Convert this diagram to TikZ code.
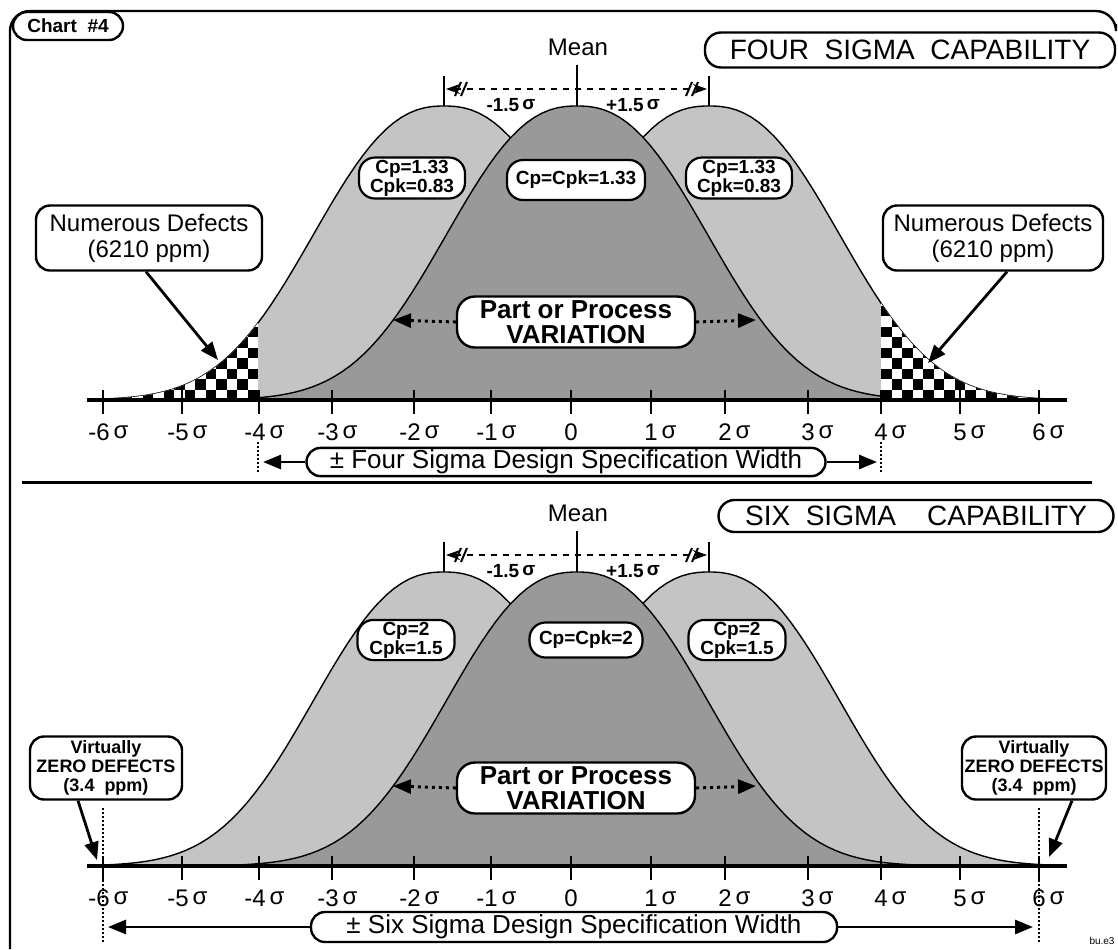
\documentclass[tikz,border=0pt]{standalone}
\usepackage{fontspec}
\setmainfont{Liberation Sans}
\usetikzlibrary{arrows.meta,positioning}

\definecolor{sidegray}{gray}{0.77}
\definecolor{midgray}{gray}{0.60}
\newcommand{\sig}{\raisebox{.15ex}{σ}}

\tikzset{
  declare function={bell(\xx,\mm)=294*exp(-1*pow((abs(\xx-\mm)+0.01)/164.6,2.39));},
  bellline/.style={line width=0.7pt},
  infobox/.style={draw, line width=1.2pt, fill=white, rounded corners=7pt, align=center, inner sep=1pt},
  cpbox/.style={draw, line width=1.1pt, fill=white, rounded corners=8pt, align=center, inner sep=1pt,
    font=\bfseries\fontsize{9.5}{9.5}\selectfont},
  titlebox/.style={draw, line width=1.2pt, rounded corners=8pt, inner sep=1pt, font=\fontsize{14}{14}\selectfont},
  specbox/.style={draw, line width=1.2pt, fill=white, rounded corners=7pt, inner sep=1pt, font=\fontsize{13}{13}\selectfont},
  ticklab/.style={anchor=base, inner sep=0pt, font=\fontsize{12}{12}\selectfont},
  fatarrow/.style={line width=1.4pt, -{Triangle[length=9pt,width=7pt]}},
  dotarrow/.style={line width=1.5pt, dotted, -{Triangle[length=9pt,width=7pt]}},
  specline/.style={line width=1pt, densely dotted},
}

\begin{document}
\begin{tikzpicture}[x=0.5pt, y=-0.5pt]
  \useasboundingbox (0,0) rectangle (1118,949);
  % frame and divider
  \draw[line width=1.2pt, rounded corners=10pt] (10,949) -- (10,11) -- (1116,11) -- (1116,24);
  \draw[line width=1.5pt] (22,482) -- (1092,482);
  \node[infobox, font=\bfseries\fontsize{9.5}{10}\selectfont, minimum width=55pt, minimum height=14pt] (chart) at (68,26) {Chart\ \ \#4};

  % common parts of both panels
  \foreach \yo in {0,466}{
  \begin{scope}[shift={(0,\yo)}]
    \foreach \m/\a/\b in {444/101/787, 709/366/1052}
      \filldraw[fill=sidegray, bellline] (\a,400) -- plot[domain=\a:\b, samples=90] (\x,{400-bell(\x,\m)}) -- (\b,400) -- cycle;
    \filldraw[fill=midgray, bellline] (234,400) -- plot[domain=234:920, samples=90] (\x,{400-bell(\x,577)}) -- (920,400) -- cycle;
    \ifnum\yo=0
      % checkered tails
      \begin{scope}
        \clip (101,399) -- plot[domain=101:258, samples=40] (\x,{400-bell(\x,444)}) -- (258,399) -- cycle;
        \fill[white] (90,280) rectangle (260,400);
        \foreach \i in {0,...,15}
          \foreach \j in {0,...,11}{
            \pgfmathtruncatemacro\odd{mod(\i+\j,2)}
            \ifnum\odd=0 \fill (258-\i*10.5,400-\j*10.5) rectangle ++(-10.5,-10.5); \fi}
      \end{scope}
      \begin{scope}
        \clip (881,399) -- plot[domain=881:1052, samples=40] (\x,{400-bell(\x,709)}) -- (1052,399) -- cycle;
        \fill[white] (880,280) rectangle (1060,400);
        \foreach \i in {0,...,16}
          \foreach \j in {0,...,11}{
            \pgfmathtruncatemacro\odd{mod(\i+\j,2)}
            \ifnum\odd=0 \fill (881+\i*10.5,400-\j*10.5) rectangle ++(10.5,-10.5); \fi}
      \end{scope}
    \fi
    % axis
    \draw[line width=2pt] (87,400) -- (1067,400);
    \foreach \t in {103,182,259,332,414,491,571,651,725,808,881,960,1039}
      \draw[line width=1.1pt] (\t,390) -- (\t,414);
    \foreach \t/\n in {103/6,182/5,259/4,332/3,414/2,491/1}
      \node[ticklab] (neg\n-\yo) at (\t,440) {\llap{-}\n\rlap{\,\sig}};
    \node[ticklab] (zero\yo) at (571,440) {0};
    \foreach \t/\n in {651/1,725/2,808/3,881/4,960/5,1039/6}
      \node[ticklab] (pos\n-\yo) at (\t,440) {\n\rlap{\,\sig}};
    % mean and shift
    \node[font=\fontsize{12}{12}\selectfont] (mean\yo) at (578,47) {Mean};
    \draw[line width=1pt] (577,65) -- (577,106);
    \draw[line width=1pt] (444,76) -- (444,106);
    \draw[line width=1pt] (709,76) -- (709,106);
    \coordinate (sl\yo) at (446,89);
    \coordinate (sr\yo) at (707,89);
    \draw[dashed, line width=0.9pt, {Stealth[length=7pt,width=5pt]}-{Stealth[length=7pt,width=5pt]}] (sl\yo) -- (sr\yo);
    \foreach \h in {458,464,689,695}
      \draw[line width=1pt] (\h-3,96) -- (\h+3,82);
    \node[font=\bfseries\fontsize{9.5}{9.5}\selectfont] (ml\yo) at (511,105) {-1.5\,\sig};
    \node[font=\bfseries\fontsize{9.5}{9.5}\selectfont] (mr\yo) at (633,105) {+1.5\,\sig};
    % variation
    \node[infobox, font=\bfseries\fontsize{13}{12.5}\selectfont, minimum width=119pt, minimum height=25.5pt, rounded corners=9pt] (part\yo) at (576,322) {Part or Process\\VARIATION};
    \coordinate (vl\yo) at (393,320);
    \coordinate (vr\yo) at (756,320);
    \draw[dotarrow] (part\yo.west) -- (vl\yo);
    \draw[dotarrow] (part\yo.east) -- (vr\yo);
  \end{scope}}

  % four sigma panel
  \node[titlebox, minimum width=205pt, minimum height=17.5pt] (four) at (910,50) {FOUR\ \ SIGMA\ \ CAPABILITY};
  \node[cpbox, minimum width=53pt, minimum height=20.5pt] (cpl4) at (412,178) {Cp=1.33\\Cpk=0.83};
  \node[cpbox, minimum width=69pt, minimum height=20pt] (cpm4) at (576,180) {Cp=Cpk=1.33};
  \node[cpbox, minimum width=53pt, minimum height=20.5pt] (cpr4) at (739,178) {Cp=1.33\\Cpk=0.83};
  \node[infobox, font=\fontsize{12}{13}\selectfont, minimum width=113pt, minimum height=32.5pt] (numl) at (149,238) {Numerous Defects\\(6210 ppm)};
  \node[infobox, font=\fontsize{12}{13}\selectfont, minimum width=110pt, minimum height=32.5pt] (numr) at (993,238) {Numerous Defects\\(6210 ppm)};
  \coordinate (tipl) at (218,360);
  \coordinate (tipr) at (928,363);
  \draw[fatarrow] ([xshift=-1.5pt]numl.south) -- (tipl);
  \draw[fatarrow] ([xshift=7pt]numr.south) -- (tipr);
  \node[specbox, minimum width=259.5pt, minimum height=14pt] (spec4) at (566,462) {± Four Sigma Design Specification Width};
  \draw[specline] (258,442) -- (258,474);
  \draw[specline] (881,442) -- (881,474);
  \coordinate (s4l) at (263,462);
  \coordinate (s4r) at (877,462);
  \draw[fatarrow] (spec4.west) -- (s4l);
  \draw[fatarrow] (spec4.east) -- (s4r);

  % six sigma panel
  \node[titlebox, minimum width=197.5pt, minimum height=16pt] (six) at (916,516) {SIX\ \ SIGMA\ \ \ \ CAPABILITY};
  \node[cpbox, minimum width=48.5pt, minimum height=17.5pt] (cpl6) at (406,640) {Cp=2\\Cpk=1.5};
  \node[cpbox, minimum width=56.5pt, minimum height=17.5pt] (cpm6) at (586,640) {Cp=Cpk=2};
  \node[cpbox, minimum width=48.5pt, minimum height=17.5pt] (cpr6) at (737,640) {Cp=2\\Cpk=1.5};
  \node[infobox, font=\bfseries\fontsize{9}{9.5}\selectfont, minimum width=76pt, minimum height=31.5pt] (zerol) at (106,768) {Virtually\\ZERO DEFECTS\\(3.4\ \ ppm)};
  \node[infobox, font=\bfseries\fontsize{9}{9.5}\selectfont, minimum width=72pt, minimum height=31.5pt] (zeror) at (1034,768) {Virtually\\ZERO DEFECTS\\(3.4\ \ ppm)};
  \coordinate (zl) at (97,860);
  \coordinate (zr) at (1049,857);
  \draw[fatarrow] ([xshift=-14pt]zerol.south) -- (zl);
  \draw[fatarrow] ([xshift=19pt]zeror.south) -- (zr);
  \node[specbox, minimum width=263pt, minimum height=15pt] (spec6) at (574,927) {± Six Sigma Design Specification Width};
  \draw[specline] (103,808) -- (103,942);
  \draw[specline] (1039,808) -- (1039,942);
  \coordinate (s6l) at (108,927);
  \coordinate (s6r) at (1033,927);
  \draw[fatarrow] (spec6.west) -- (s6l);
  \draw[fatarrow] (spec6.east) -- (s6r);
  \node[font=\fontsize{5}{5}\selectfont, inner sep=0pt] (mark) at (1102,941) {bu.e3};
\end{tikzpicture}
\end{document}
